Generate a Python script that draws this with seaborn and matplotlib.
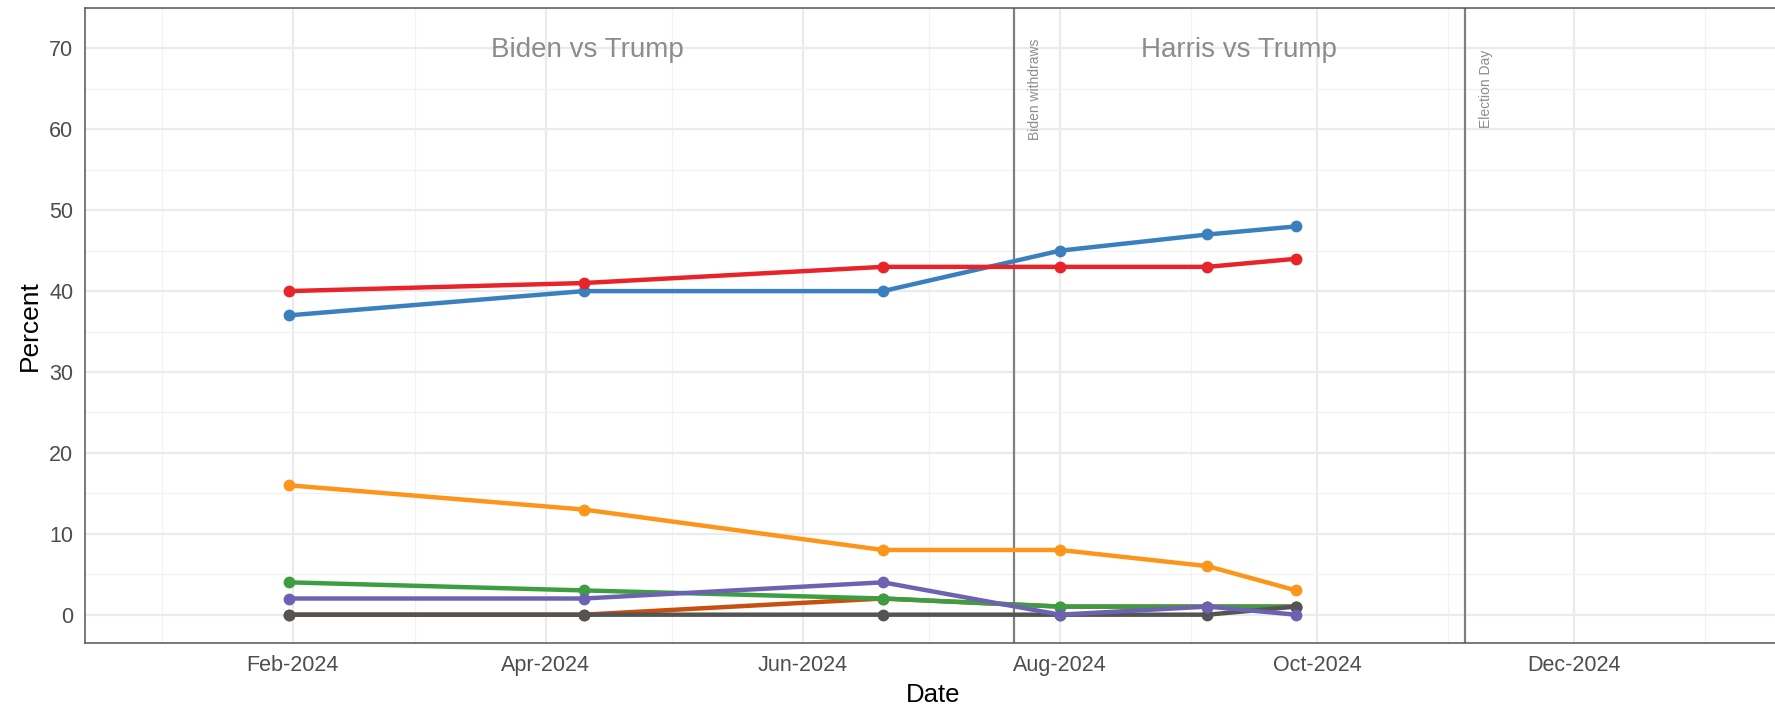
import matplotlib

matplotlib.use("Agg")
import matplotlib.dates as mdates
import matplotlib.pyplot as plt
import numpy as np
import pandas as pd
import seaborn as sns

# ---- data ----
poll_dates = ["2024-01-31", "2024-04-10", "2024-06-20", "2024-08-01", "2024-09-05", "2024-09-26"]
dem = [37, 40, 40, 45, 47, 48]
trump = [40, 41, 43, 43, 43, 44]
kennedy = [16, 13, 8, 8, 6, 3]
oliver = [0, 0, 2, 1, 1, 1]
stein = [4, 3, 2, 1, 1, 1]
other = [0, 0, 0, 0, 0, 1]
west = [2, 2, 4, 0, 1, 0]

series = {
    "Democrat": dem,
    "Trump": trump,
    "Kennedy": kennedy,
    "Oliver": oliver,
    "Stein": stein,
    "Other": other,
    "West": west,
}
colors = {
    "Democrat": "#3A80BE",
    "Trump": "#E8232A",
    "Kennedy": "#FD951A",
    "Oliver": "#C8500E",
    "Stein": "#3C9E41",
    "Other": "#545454",
    "West": "#6D62B2",
}

withdraw_date = "2024-07-21"
election_date = "2024-11-05"

df = pd.DataFrame(
    [(pd.Timestamp(d), name, v) for name, vals in series.items() for d, v in zip(poll_dates, vals)],
    columns=["Date", "Candidate", "Percent"],
)

# ---- plot ----
sns.set_style("white")
plt.rcParams["font.family"] = ["Liberation Sans", "DejaVu Sans"]

fig = plt.figure(figsize=(17.75, 7.07), dpi=100)
ax = fig.add_axes([85 / 1775, 1 - 643 / 707, (1782 - 85) / 1775, (643 - 8) / 707])

sns.lineplot(
    data=df, x="Date", y="Percent", hue="Candidate", palette=colors,
    hue_order=list(series.keys()), marker="o", markersize=8.5, markeredgewidth=0,
    linewidth=3.2, legend=False, ax=ax, zorder=3,
)

x0, x1 = pd.Timestamp("2024-01-01"), pd.Timestamp("2025-01-01")
span = (x1 - x0) * 0.05
ax.set_xlim(x0 - span, x1 + span)
ax.set_ylim(-3.5, 73.5)

# gridlines like theme_bw
ax.set_yticks(np.arange(0, 71, 10))
ax.set_yticks(np.arange(5, 76, 10), minor=True)
ax.xaxis.set_major_locator(mdates.MonthLocator(bymonth=[2, 4, 6, 8, 10, 12]))
ax.xaxis.set_minor_locator(mdates.MonthLocator(bymonth=[1, 3, 5, 7, 9, 11]))
ax.xaxis.set_major_formatter(mdates.DateFormatter("%b-%Y"))
ax.grid(which="major", color="#EBEBEB", linewidth=1.6, zorder=0)
ax.grid(which="minor", color="#F2F2F2", linewidth=0.9, zorder=0)
ax.set_axisbelow(True)

for s in ax.spines.values():
    s.set_color("#555555")
    s.set_linewidth(1.1)

ax.tick_params(axis="both", which="major", length=5.5, width=1.1, color="#333333",
               labelsize=15.5, labelcolor="#4D4D4D", pad=3)
ax.tick_params(axis="both", which="minor", length=0)

ax.set_xlabel("Date", fontsize=18.5, color="black", labelpad=5)
ax.set_ylabel("Percent", fontsize=19, color="black", labelpad=5)

# event lines and annotations
for d in [withdraw_date, election_date]:
    ax.axvline(pd.Timestamp(d), color="#7F7F7F", linewidth=1.6, zorder=2)
ax.text(pd.Timestamp(withdraw_date) + pd.Timedelta(days=5), 65, "Biden withdraws",
        rotation=90, ha="center", va="center", fontsize=10, color="#8C8C8C")
ax.text(pd.Timestamp(election_date) + pd.Timedelta(days=5), 65, "Election Day",
        rotation=90, ha="center", va="center", fontsize=10, color="#8C8C8C")

mid1 = x0 + (pd.Timestamp(withdraw_date) - x0) / 2
mid2 = pd.Timestamp(withdraw_date) + (pd.Timestamp(election_date) - pd.Timestamp(withdraw_date)) / 2
ax.text(mid1, 68.9, "Biden vs Trump", ha="center", va="baseline", fontsize=20, color="#8C8C8C")
ax.text(mid2, 68.9, "Harris vs Trump", ha="center", va="baseline", fontsize=20, color="#8C8C8C")

fig.savefig("out.png", dpi=100)
